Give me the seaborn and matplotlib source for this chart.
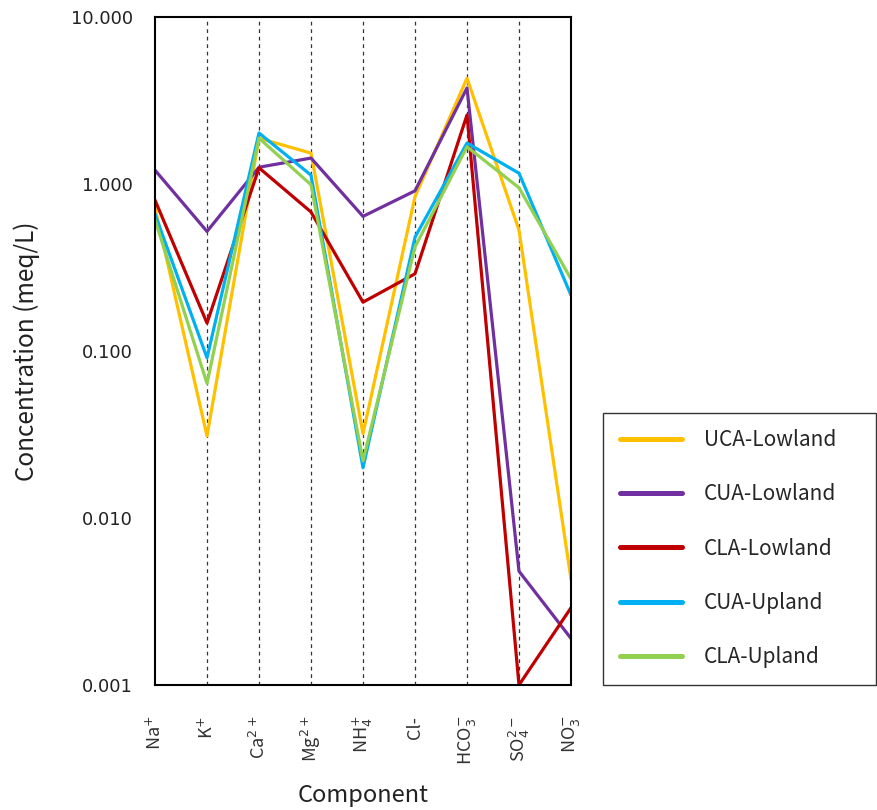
import matplotlib
matplotlib.use("Agg")
import matplotlib.pyplot as plt
import matplotlib.ticker as mticker
import seaborn as sns
import pandas as pd
import numpy as np

components = ["Na$^{+}$", "K$^{+}$", "Ca$^{2+}$", "Mg$^{2+}$", "NH$_4^{+}$",
              "Cl-", "HCO$_3^{-}$", "SO$_4^{2-}$", "NO$_3^{-}$"]
series_names = ["UCA-Lowland", "CUA-Lowland", "CLA-Lowland", "CUA-Upland", "CLA-Upland"]

uca_lowland = [0.72, 0.031, 1.88, 1.53, 0.032, 0.84, 4.3, 0.53, 0.0043]
cua_lowland = [1.21, 0.52, 1.26, 1.43, 0.64, 0.91, 3.76, 0.0048, 0.0019]
cla_lowland = [0.80, 0.147, 1.25, 0.68, 0.196, 0.29, 2.59, 0.001, 0.0029]
cua_upland = [0.66, 0.091, 2.02, 1.13, 0.020, 0.48, 1.76, 1.16, 0.216]
cla_upland = [0.61, 0.064, 1.88, 0.99, 0.022, 0.42, 1.67, 0.95, 0.27]

colors = ["#FFC000", "#7030A0", "#C00000", "#00B0F0", "#92D050"]

values = [uca_lowland, cua_lowland, cla_lowland, cua_upland, cla_upland]
rows = []
for name, vals in zip(series_names, values):
    for i, (c, v) in enumerate(zip(components, vals)):
        rows.append({"series": name, "idx": i, "value": v})
df = pd.DataFrame(rows)

sns.set_style("white")
label_font = ["Noto Sans CJK JP", "DejaVu Sans"]

fig = plt.figure(figsize=(8.77, 8.10), dpi=100)
ax = fig.add_axes([155/877, 125/810, (571-155)/877, (685-17)/810])

sns.lineplot(data=df, x="idx", y="value", hue="series", hue_order=series_names,
             palette=colors, linewidth=2.3, ax=ax, legend=True)

ax.set_yscale("log")
ax.set_ylim(0.001, 10)
ax.set_xlim(0, len(components) - 1)
ax.set_xticks(range(len(components)))
ax.set_xticklabels(components, rotation=90, fontsize=13, family=label_font, color="#333333")
ax.yaxis.set_major_locator(mticker.LogLocator(base=10, numticks=10))
ax.yaxis.set_major_formatter(mticker.FuncFormatter(lambda v, p: f"{v:.3f}"))
ax.yaxis.set_minor_locator(mticker.LogLocator(base=10, subs=np.arange(2, 10), numticks=20))
ax.yaxis.set_minor_formatter(mticker.NullFormatter())
ax.tick_params(axis="y", which="major", direction="inout", length=8, width=1.2, labelsize=13,
               color="black", labelcolor="#222222", pad=12)
ax.tick_params(axis="y", which="minor", direction="out", length=4, width=1.0, color="black")
ax.tick_params(axis="x", which="major", direction="inout", length=8, width=1.2, color="black", pad=18)

for x in range(1, len(components) - 1):
    ax.axvline(x, color="#333333", linestyle=(0, (3, 3)), linewidth=0.9, zorder=0)

for s in ax.spines.values():
    s.set_color("black")
    s.set_linewidth(1.5)

ax.set_xlabel("Component", fontsize=17, family=label_font, labelpad=14, color="#222222")
ax.set_ylabel("Concentration (meq/L)", fontsize=17.5, family=label_font, labelpad=22, color="#222222")

handles, labels = ax.get_legend_handles_labels()
for h in handles:
    h.set_linewidth(3.6)
    h.set_solid_capstyle("round")
ax.legend(handles, labels, loc="lower left", bbox_to_anchor=(603/877, 125/810, 273/877, 282/810),
          bbox_transform=fig.transFigure, mode="expand", frameon=True, fancybox=False,
          edgecolor="black", prop={"family": label_font, "size": 15},
          handlelength=3.0, handletextpad=1.05, labelspacing=1.55, borderpad=0.8,
          borderaxespad=0)

fig.savefig("out.png", dpi=100)
